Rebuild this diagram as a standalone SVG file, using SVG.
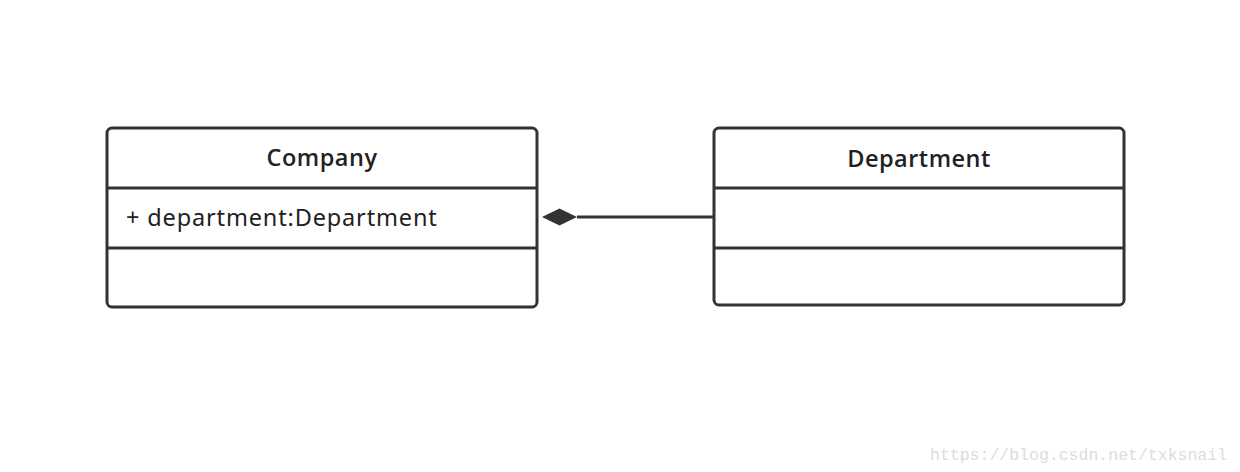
<svg xmlns="http://www.w3.org/2000/svg" width="1240" height="472" viewBox="0 0 1240 472">
<style>
.box{fill:#fff;stroke:#333;stroke-width:3}
.div{stroke:#333;stroke-width:3}
.t{font-family:"Noto Sans","Liberation Sans",Arial,sans-serif;font-size:23.5px;fill:#222;letter-spacing:0.85px}
.title{font-family:"Open Sans","Noto Sans",sans-serif;font-weight:600;text-anchor:middle;font-size:23.5px;letter-spacing:0.5px}
.wm{font-family:"Liberation Mono",monospace;font-size:16.5px;fill:#dcdcdc}
</style>
<rect width="1240" height="472" fill="#fff"/>
<g id="company">
<rect class="box" x="107" y="128" width="430" height="179" rx="5"/>
<line class="div" x1="107" y1="188" x2="537" y2="188"/>
<line class="div" x1="107" y1="248" x2="537" y2="248"/>
<text class="t title" x="322" y="166">Company</text>
<text class="t" x="126" y="226">+ department:Department</text>
</g>
<g id="department">
<rect class="box" x="714" y="128" width="410" height="177" rx="5"/>
<line class="div" x1="714" y1="188" x2="1124" y2="188"/>
<line class="div" x1="714" y1="248" x2="1124" y2="248"/>
<text class="t title" x="919" y="167">Department</text>
</g>
<g id="connectors">
<line x1="577" y1="217" x2="714" y2="217" stroke="#333" stroke-width="3"/>
<polygon points="542,217 559.5,208.5 577,217 559.5,225.5" fill="#333"/>
</g>
<text class="wm" x="930" y="460">https://blog.csdn.net/txksnail</text>
</svg>
